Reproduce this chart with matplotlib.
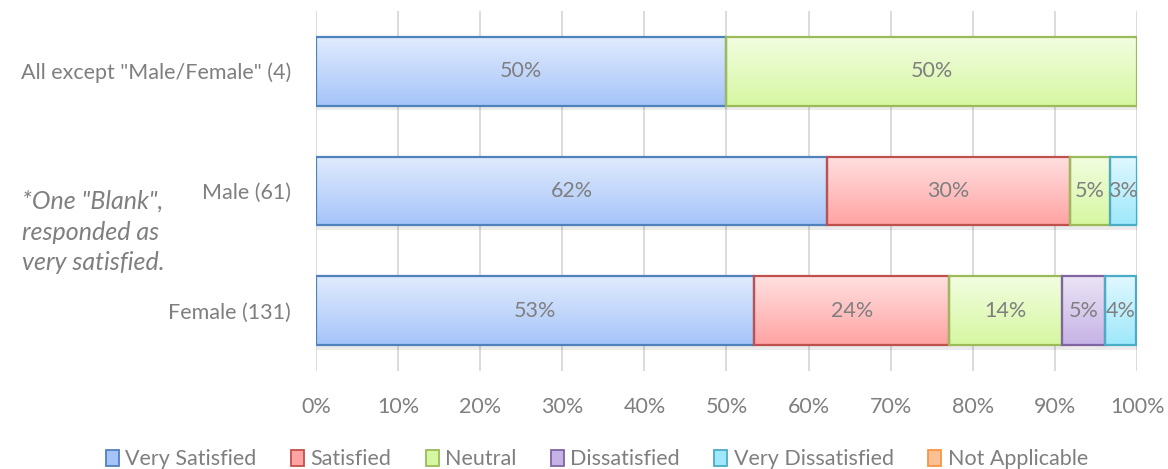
import numpy as np
import matplotlib.pyplot as plt
from matplotlib.patches import Patch
from matplotlib.colors import LinearSegmentedColormap

# data (bottom to top)
groups = ['Female (131)', 'Male (61)', 'All except "Male/Female" (4)']
responses = ['Very Satisfied', 'Satisfied', 'Neutral', 'Dissatisfied',
             'Very Dissatisfied', 'Not Applicable']
very_satisfied = [53.4, 62.3, 50.0]
satisfied = [23.7, 29.5, 0.0]
neutral = [13.7, 4.9, 50.0]
dissatisfied = [5.3, 0.0, 0.0]
very_dissatisfied = [3.8, 3.3, 0.0]
not_applicable = [0.0, 0.0, 0.0]
note = '*One "Blank",\nresponded as\nvery satisfied.'

series = [very_satisfied, satisfied, neutral, dissatisfied,
          very_dissatisfied, not_applicable]
# (top colour, bottom colour, edge colour)
styles = [('#e0ebfd', '#a6c4f9', '#4f81bd'),
          ('#ffe0e0', '#ffa3a3', '#c0504d'),
          ('#f2fde0', '#d6f7a2', '#9bbb59'),
          ('#ebe4f5', '#c6b3e6', '#8064a2'),
          ('#e0f8fe', '#9fe8fb', '#4bacc6'),
          ('#fee3d0', '#fbbf94', '#f79646')]

txt_gray = '#7f7f7f'
plt.rcParams['font.family'] = ['Lato', 'DejaVu Sans']

fig = plt.figure(figsize=(11.68, 4.69), dpi=100)
ax = fig.add_axes([0.2705, 0.209, 0.703, 0.7675])

y = np.arange(len(groups))
h = 0.575
left = np.zeros(len(groups))
grad = np.linspace(0, 1, 64).reshape(-1, 1)

for vals, (c_top, c_bot, c_edge) in zip(series, styles):
    vals = np.array(vals)
    cmap = LinearSegmentedColormap.from_list('g', [c_bot, c_top])
    for yi, x0, v in zip(y, left, vals):
        if v <= 0:
            continue
        y0 = yi - h / 2
        ax.barh(yi, v, left=x0, height=h, color='none',
                edgecolor=c_edge, linewidth=1.6, zorder=4)
        # soft shadow
        ax.add_patch(plt.Rectangle((x0 + 0.15, y0 - 0.035), v, h, color='#000000',
                                   alpha=0.08, lw=0, zorder=2))
        ax.imshow(grad, cmap=cmap, origin='lower', aspect='auto',
                  extent=(x0, x0 + v, y0, y0 + h), zorder=3,
                  interpolation='bilinear')
        ax.text(x0 + v / 2, yi, f'{v:.0f}%', ha='center', va='center',
                color=txt_gray, fontsize=15.5, zorder=5)
    left += vals

ax.set_xlim(0, 100)
ax.set_ylim(-0.5, 2.5)
ax.set_xticks(np.arange(0, 101, 10))
ax.set_xticklabels([f'{t}%' for t in range(0, 101, 10)])
ax.set_yticks(y)
ax.set_yticklabels(groups)
ax.tick_params(length=0, colors=txt_gray, labelsize=15.5)
ax.tick_params(axis='x', pad=19)
ax.tick_params(axis='y', pad=18)
ax.grid(axis='x', color='#d9d9d9', linewidth=1.3, zorder=0)
ax.set_axisbelow(True)
for s in ax.spines.values():
    s.set_visible(False)

fig.text(0.019, 0.505, note, fontsize=18, style='italic', color=txt_gray,
         ha='left', va='center', linespacing=1.4)

handles = [Patch(facecolor=st[1], edgecolor=st[2], linewidth=1.3, label=r)
           for r, st in zip(responses, styles)]
leg = fig.legend(handles=handles, loc='lower center', ncol=6, frameon=False,
                 bbox_to_anchor=(0.511, -0.042), handlelength=0.6, handleheight=0.8,
                 handletextpad=0.3, columnspacing=1.6, fontsize=15.5)
for t in leg.get_texts():
    t.set_color(txt_gray)

fig.savefig('out.png', dpi=100)
